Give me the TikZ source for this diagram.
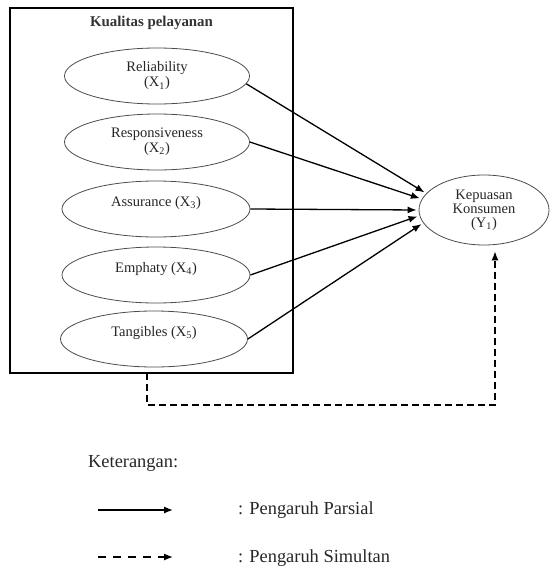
\documentclass[tikz,border=0pt]{standalone}
\usepackage{fontspec}
\setmainfont{Liberation Serif}
\usetikzlibrary{arrows.meta,shapes.geometric}
\begin{document}
\begin{tikzpicture}[x=1pt,y=-1pt,
 var/.style={ellipse, draw=black!70, line width=0.8pt, minimum width=185pt, minimum height=56pt, inner sep=0pt, align=center, text=black!85, font=\fontsize{14.5}{15}\selectfont},
 arr/.style={line width=1.3pt, -{Latex[length=9pt,width=7pt]}},
 darr/.style={arr, dash pattern=on 7pt off 4pt},
 lbl/.style={font=\fontsize{18.4}{20}\selectfont, anchor=west, inner sep=0pt, text=black!85}]
\useasboundingbox (0,0) rectangle (550,570);
\node[draw, line width=1.6pt, minimum width=283pt, minimum height=365pt, inner sep=0pt] (box) at (151.5,190.5) {};
\node[font=\fontsize{14.9}{17}\selectfont\bfseries, text=black!80] (title) at (151.5,23) {Kualitas pelayanan};
\node[var] (rel) at (157,76) {Reliability\\(X\textsubscript{1})};
\node[var] (res) at (157,142) {Responsiveness\\(X\textsubscript{2})};
\node[var, minimum width=188pt] (asu) at (156,209) {Assurance (X\textsubscript{3})\\\mbox{}};
\node[var, minimum width=188pt] (emp) at (156,275) {Emphaty (X\textsubscript{4})\\\mbox{}};
\node[var, minimum width=187pt] (tan) at (154,339) {Tangibles (X\textsubscript{5})\\\mbox{}};
\node[var, minimum width=130pt, minimum height=70pt, font=\fontsize{14.5}{14}\selectfont] (kep) at (484,210) {Kepuasan\\Konsumen\\(Y\textsubscript{1})};
\draw[arr, shorten >=2pt] (rel.-5) -- (kep.164);
\draw[arr, shorten >=2pt] (res.east) -- (kep.170);
\draw[arr, shorten >=2pt] (asu.east) -- (kep.180);
\draw[arr, shorten >=2pt] (emp.east) -- (kep.185);
\draw[arr, shorten >=2pt] (tan.east) -- (kep.192);
\coordinate (ds) at (147,373);
\coordinate (dc) at (495,405);
\draw[darr, shorten >=6pt] (ds) |- (dc) -- (dc |- kep.south);
\node[lbl] (ket) at (88,463) {Keterangan:};
\coordinate (l1a) at (98,510);
\coordinate (l1b) at (173,510);
\draw[arr] (l1a) -- (l1b);
\node[lbl] (par) at (238,510) {: Pengaruh Parsial};
\coordinate (l2a) at (98,557);
\coordinate (l2b) at (173,557);
\draw[arr, dash pattern=on 8pt off 7pt] (l2a) -- (l2b);
\node[lbl] (sim) at (238,558) {: Pengaruh Simultan};
\end{tikzpicture}
\end{document}
